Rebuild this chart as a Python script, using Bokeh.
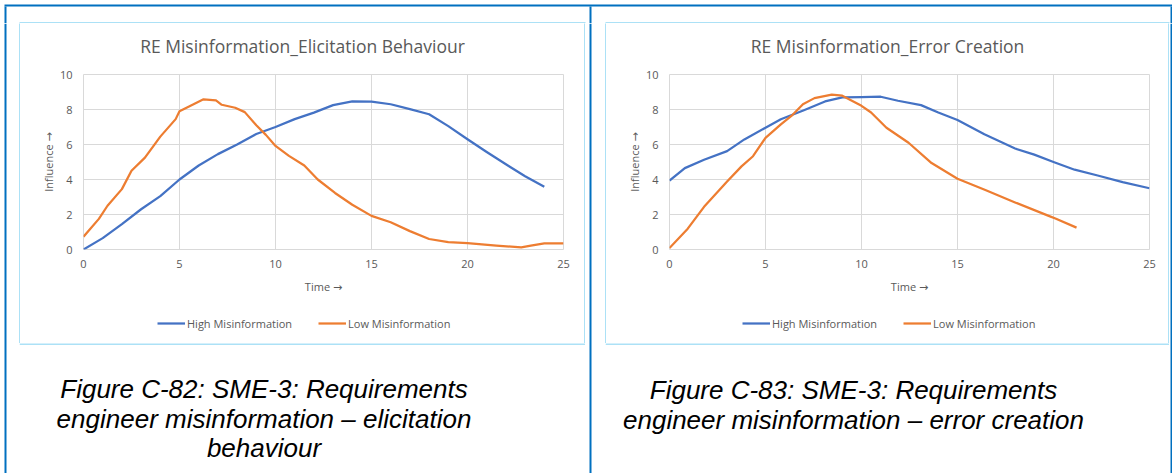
from bokeh.plotting import figure
from bokeh.models import Range1d, FixedTicker, Legend, LegendItem
from bokeh.layouts import row, column
from bokeh.core.properties import value
from bokeh.embed import file_html
from bokeh.resources import INLINE

# ---------------- data ----------------
x_ticks = [0, 5, 10, 15, 20, 25]
y_ticks = [0, 2, 4, 6, 8, 10]
series_names = ["High Misinformation", "Low Misinformation"]
x_title = "Time \u2192"
y_title = "Influence \u2192"

titles = ["RE Misinformation_Elicitation Behaviour", "RE Misinformation_Error Creation"]
captions = [
    ["Figure C-82: SME-3: Requirements", "engineer misinformation \u2013 elicitation", "behaviour"],
    ["Figure C-83: SME-3: Requirements", "engineer misinformation \u2013 error creation"],
]

elic_high_t = [0, 1, 2, 3, 4, 5, 6, 7, 8, 9, 10, 11, 12, 13, 14, 15, 16, 17, 18, 19, 20, 21, 22, 23, 24]
elic_high_v = [0.0, 0.65, 1.45, 2.3, 3.05, 4.0, 4.8, 5.45, 6.0, 6.6, 7.0, 7.45, 7.82, 8.25, 8.47,
               8.45, 8.3, 8.02, 7.73, 7.05, 6.3, 5.57, 4.87, 4.19, 3.58]

elic_low_t = [0, 0.8, 1.25, 2.0, 2.5, 3.2, 4.0, 4.8, 5.0, 5.6, 6.25, 6.9, 7.2, 7.9, 8.4, 9.0, 9.5,
              10.0, 10.7, 11.5, 12.2, 13.1, 14.0, 15.0, 16.0, 17.0, 18.0, 19.0, 20.0, 21.5, 22.8,
              23.3, 24.0, 25.0]
elic_low_v = [0.73, 1.75, 2.5, 3.45, 4.5, 5.25, 6.45, 7.45, 7.9, 8.23, 8.58, 8.52, 8.27, 8.1, 7.85,
              7.1, 6.55, 5.92, 5.35, 4.8, 4.0, 3.23, 2.56, 1.92, 1.56, 1.05, 0.6, 0.42, 0.36, 0.22,
              0.12, 0.22, 0.35, 0.35]

err_high_t = [0, 0.8, 1.8, 3.0, 3.9, 5.0, 5.8, 7.0, 8.1, 9.0, 10.0, 11.0, 11.9, 13.1, 14.0, 15.0,
              16.4, 18.0, 19.0, 20.0, 21.1, 22.3, 23.6, 25.0]
err_high_v = [3.94, 4.65, 5.13, 5.62, 6.29, 6.96, 7.44, 7.96, 8.46, 8.69, 8.71, 8.73, 8.5, 8.25,
              7.83, 7.4, 6.58, 5.77, 5.42, 5.0, 4.56, 4.23, 3.85, 3.5]

err_low_t = [0, 0.95, 1.8, 3.0, 3.75, 4.35, 5.0, 5.8, 6.35, 6.95, 7.55, 8.45, 9.0, 10.0, 10.5,
             11.3, 12.45, 13.65, 15.0, 16.45, 18.0, 19.75, 20.1, 21.2]
err_low_v = [0.08, 1.19, 2.44, 3.88, 4.75, 5.33, 6.38, 7.15, 7.63, 8.3, 8.65, 8.85, 8.79, 8.21,
             7.83, 6.96, 6.1, 4.94, 4.04, 3.4, 2.69, 1.92, 1.77, 1.25]

# ---------------- styling ----------------
BLUE = "#4472C4"
ORANGE = "#ED7D31"
GREY_TXT = "#595959"
GRID = "#D9D9D9"
BOX = "#5BC4EE"
TABLE = "#0070C0"
FONT = "Open Sans"
AXIS_TITLE_FONT = "Open Sans, DejaVu Sans"

FRAME_W, FRAME_H = 480, 175
BL = 63  # left border of chart-column figures (frame starts 63px into the chart box)


def bare(w, h, x0, y0, color="white", bl=0, br=0):
    """Blank figure; its frame spans page x [x0+bl, x0+w-br] and page y [y0, y0+h]."""
    f = figure(width=w, height=h, output_backend="svg", toolbar_location=None,
               x_axis_type=None, y_axis_type=None, min_border=0,
               min_border_left=bl, min_border_right=br, min_border_top=0, min_border_bottom=0,
               x_range=Range1d(x0 + bl, x0 + w - br), y_range=Range1d(y0 + h, y0),
               background_fill_color=color, border_fill_color=color,
               outline_line_color=None)
    f.title.visible = False
    return f


def bars(f, rects, color):
    f.quad(left=[r[0] for r in rects], right=[r[1] for r in rects],
           top=[r[2] for r in rects], bottom=[r[3] for r in rects],
           fill_color=color, line_color=None)


def chart(w, h, high, low):
    p = figure(width=w, height=h, output_backend="svg", toolbar_location=None,
               x_range=Range1d(0, 25), y_range=Range1d(0, 10),
               min_border_left=BL, min_border_right=w - BL - FRAME_W,
               min_border_top=11, min_border_bottom=h - 11 - FRAME_H)
    p.title.visible = False
    p.background_fill_color = "white"
    p.border_fill_color = "white"
    p.outline_line_color = GRID

    p.xaxis.ticker = FixedTicker(ticks=x_ticks)
    p.yaxis.ticker = FixedTicker(ticks=y_ticks)
    p.xaxis.axis_label = x_title
    p.yaxis.axis_label = y_title
    for ax in (p.xaxis, p.yaxis):
        ax.axis_line_color = None
        ax.major_tick_line_color = None
        ax.minor_tick_line_color = None
        ax.major_tick_out = 0
        ax.major_tick_in = 0
        ax.minor_tick_out = 0
        ax.minor_tick_in = 0
        ax.major_label_text_font = FONT
        ax.major_label_text_font_size = "11px"
        ax.major_label_text_color = GREY_TXT
        ax.axis_label_text_font = AXIS_TITLE_FONT
        ax.axis_label_text_font_size = "11px"
        ax.axis_label_text_font_style = "normal"
        ax.axis_label_text_color = GREY_TXT
    p.xaxis.major_label_standoff = 10
    p.xaxis.axis_label_standoff = 8
    p.yaxis.major_label_standoff = 11
    p.yaxis.axis_label_standoff = 1
    p.xgrid.grid_line_color = GRID
    p.ygrid.grid_line_color = GRID

    p.line(high[0], high[1], line_color=BLUE, line_width=2.25, line_join="round")
    p.line(low[0], low[1], line_color=ORANGE, line_width=2.25, line_join="round")
    return p


def legend_fig(w, x0, legend_x, high, low):
    f = bare(w, 40, x0, 303, bl=BL, br=w - BL - FRAME_W)
    # the series drawn here lie outside this strip's ranges; they only feed the legend swatches
    r1 = f.line(high[0], high[1], line_color=BLUE, line_width=2.25)
    r2 = f.line(low[0], low[1], line_color=ORANGE, line_width=2.25)
    lg = Legend(items=[LegendItem(label=series_names[0], renderers=[r1]),
                       LegendItem(label=series_names[1], renderers=[r2])],
                orientation="horizontal", location=(legend_x, 10),
                padding=0, margin=0, spacing=26, glyph_width=28, glyph_height=20,
                label_standoff=2, label_height=20, label_text_font=FONT,
                label_text_font_size="11px", label_text_color=GREY_TXT,
                border_line_color=None, background_fill_alpha=0)
    f.add_layout(lg, "center")
    return f


def title_fig(w, x0, cx, title):
    f = bare(w, 40, x0, 23, bl=BL, br=w - BL - FRAME_W)
    f.text(x=[cx], y=[45], text=[title], text_align="center", text_baseline="middle",
           text_font=value(FONT), text_font_size="17.5px", text_color=GREY_TXT)
    return f


def vrule(x0):
    return bare(1, 320, x0, 23, BOX)


def caption_fig(w, x0, cx, lines, baselines):
    f = bare(w, 130, x0, 343)
    bars(f, [(x0, x0 + w, 343, 344)], BOX)          # bottom edge of the chart box
    f.text(x=[cx] * len(lines), y=baselines[:len(lines)], text=lines,
           text_align="center", text_baseline="alphabetic",
           text_font=value("Liberation Sans"), text_font_style="italic",
           text_font_size="26px", text_color="black")
    return f


def chart_column(box_x0, box_w, cx_title, title, high, low, legend_x, cap_cx, cap_lines, cap_base):
    inner_w = box_w - 2
    ix0 = box_x0 + 1
    inner = column(title_fig(inner_w, ix0, cx_title, title),
                   chart(inner_w, 240, high, low),
                   legend_fig(inner_w, ix0, legend_x, high, low), spacing=0)
    boxed = row(vrule(box_x0), inner, vrule(box_x0 + box_w - 1), spacing=0)
    return column(boxed, caption_fig(box_w, box_x0, cap_cx, cap_lines, cap_base), spacing=0)


# top strip: table top rule, start of the table's vertical rules, top edges of both chart boxes
top = bare(1172, 23, 0, 0)
bars(top, [(4, 1172, 4, 6), (4, 6, 6, 23), (589, 591, 6, 23), (1170, 1172, 6, 23)], TABLE)
bars(top, [(19, 585, 22, 23), (605, 1169, 22, 23)], BOX)

g_left = bare(19, 450, 0, 23)
bars(g_left, [(4, 6, 23, 473)], TABLE)
g_mid = bare(20, 450, 585, 23)
bars(g_mid, [(589, 591, 23, 473)], TABLE)
g_right = bare(3, 450, 1169, 23)
bars(g_right, [(1170, 1172, 23, 473)], TABLE)

col1 = chart_column(19, 566, 302, titles[0], (elic_high_t, elic_high_v), (elic_low_t, elic_low_v),
                    74, 263.5, captions[0], [388.7, 418.3, 447.3])
col2 = chart_column(605, 564, 887, titles[1], (err_high_t, err_high_v), (err_low_t, err_low_v),
                    73, 853, captions[1], [389.3, 419.3, 448.3])

page = column(top, row(g_left, col1, g_mid, col2, g_right, spacing=0), spacing=0)

open("out.html", "w").write(file_html(page, INLINE))
